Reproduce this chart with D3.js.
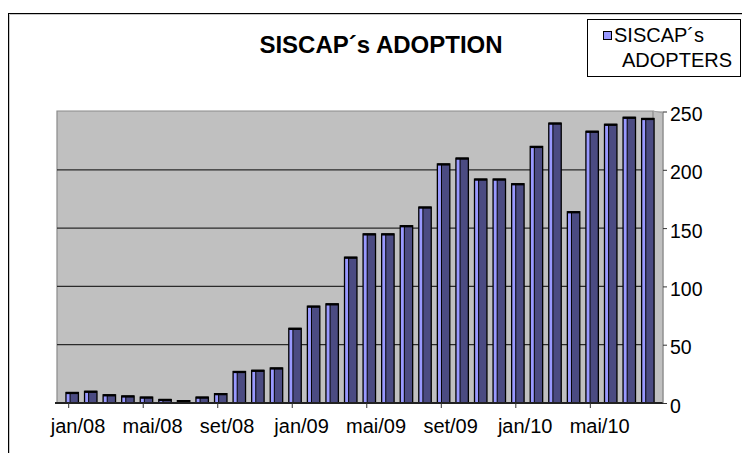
<!DOCTYPE html>
<html>
<head>
<meta charset="utf-8">
<script src="https://cdn.jsdelivr.net/npm/d3@7"></script>
<style>
  html, body { margin: 0; padding: 0; background: #fff; }
  svg { display: block; }
  text { font-family: "Liberation Sans", Arial, sans-serif; fill: #000; }
</style>
</head>
<body>
<svg id="chart" width="742" height="453"></svg>
<script>
const months = ["jan/08","fev/08","mar/08","abr/08","mai/08","jun/08","jul/08","ago/08",
  "set/08","out/08","nov/08","dez/08","jan/09","fev/09","mar/09","abr/09",
  "mai/09","jun/09","jul/09","ago/09","set/09","out/09","nov/09","dez/09",
  "jan/10","fev/10","mar/10","abr/10","mai/10","jun/10","jul/10","ago/10"];
const adopters = [9,10,7,6,5,3,2,5,8,27,28,30,64,83,85,125,
  145,145,152,168,205,210,192,192,188,220,240,164,233,239,245,244];
const yTicks = [0,50,100,150,200,250];
const labelMonths = ["jan/08","mai/08","set/08","jan/09","mai/09","set/09","jan/10","mai/10"];
const title = "SISCAP´s ADOPTION";
const legendLines = ["SISCAP´s", "ADOPTERS"];

const svg = d3.select("#chart");

// outer chart border
svg.append("line").attr("x1",9.5).attr("x2",742).attr("y1",14.5).attr("y2",14.5).attr("stroke","#c8c8c8");
svg.append("line").attr("x1",9.5).attr("x2",9.5).attr("y1",14.5).attr("y2",453).attr("stroke","#c8c8c8");
svg.append("rect").attr("x",8.5).attr("y",13.5).attr("width",800).attr("height",500)
  .attr("fill","none").attr("stroke","#000").attr("stroke-width",1);

// geometry
const wallL = 57, wallR = 653, sideR = 663, wallTop = 111, floorY = 403;
const y = d3.scaleLinear().domain([0,250]).range([floorY, 111.5]);
const xBar = d3.scaleBand().domain(months).range([62.9, 62.9 + 32*18.57])
  .paddingInner(0.33).paddingOuter(0.165);
const xFront = d3.scaleBand().domain(months).range([68.7, 68.7 + 32*18.63]);

// walls
svg.append("rect").attr("x",wallL).attr("y",wallTop).attr("width",sideR-wallL).attr("height",floorY-wallTop)
  .attr("fill","#c0c0c0");
svg.append("path")
  .attr("d",`M${wallL},${floorY}V${wallTop}H${wallR}V${floorY}`)
  .attr("fill","none").attr("stroke","#8a8a8a").attr("stroke-width",1.2);
svg.append("path")
  .attr("d",`M${wallR},${wallTop}L${sideR},${wallTop+2}V${floorY}`)
  .attr("fill","none").attr("stroke","#a0a0a0").attr("stroke-width",1);

// gridlines
svg.append("g").selectAll("line").data(yTicks.filter(d => d > 0 && d < 250)).join("line")
  .attr("x1",wallL).attr("x2",wallR)
  .attr("y1",d => y(d)).attr("y2",d => y(d))
  .attr("stroke","#2a2a2a").attr("stroke-width",1.2);

// bars
const bars = svg.append("g").selectAll("g").data(adopters).join("g");
const bw = xBar.bandwidth();
bars.append("rect")
  .attr("x",(d,i) => xBar(months[i])).attr("y",d => y(d))
  .attr("width",bw).attr("height",d => floorY - y(d))
  .attr("fill","#4b4b82");
bars.append("rect")
  .attr("x",(d,i) => xBar(months[i])).attr("y",d => y(d))
  .attr("width",bw*0.33).attr("height",d => floorY - y(d))
  .attr("fill","#9999ff");
bars.append("line")
  .attr("x1",(d,i) => xBar(months[i]) + bw*0.33).attr("x2",(d,i) => xBar(months[i]) + bw*0.33)
  .attr("y1",d => y(d)).attr("y2",floorY)
  .attr("stroke","#000").attr("stroke-width",1);
bars.append("rect")
  .attr("x",(d,i) => xBar(months[i])).attr("y",d => y(d))
  .attr("width",bw).attr("height",d => floorY - y(d))
  .attr("fill","none").attr("stroke","#000").attr("stroke-width",1.3);
bars.append("line")
  .attr("x1",(d,i) => xBar(months[i])).attr("x2",(d,i) => xBar(months[i]) + bw)
  .attr("y1",d => y(d)+0.5).attr("y2",d => y(d)+0.5)
  .attr("stroke","#000").attr("stroke-width",2.2);

// floor / front axis
svg.append("line").attr("x1",55).attr("x2",sideR).attr("y1",floorY).attr("y2",floorY)
  .attr("stroke","#222").attr("stroke-width",2);
const xAxis = d3.axisBottom(xFront).tickValues(labelMonths).tickSize(0).tickPadding(0);
const gx = svg.append("g").attr("transform",`translate(0,${floorY})`).call(xAxis);
gx.select(".domain").remove();
gx.selectAll(".tick text").attr("y",30).attr("dy",0)
  .style("font-family","'Liberation Sans', Arial, sans-serif").style("font-size","20px");
gx.selectAll(".tick").append("line")
  .attr("x1",-xFront.bandwidth()/2).attr("x2",-xFront.bandwidth()/2)
  .attr("y1",0).attr("y2",5).attr("stroke","#333").attr("stroke-width",1);

// right value axis
svg.append("line").attr("x1",sideR).attr("x2",sideR).attr("y1",wallTop+1).attr("y2",floorY)
  .attr("stroke","#888").attr("stroke-width",1);
const yAxis = d3.axisRight(y).tickValues(yTicks).tickSize(4).tickPadding(3);
const gy = svg.append("g").attr("transform",`translate(${sideR},0)`).call(yAxis);
gy.select(".domain").remove();
gy.selectAll(".tick line").attr("stroke","#333");
gy.selectAll(".tick text").attr("dy",0).attr("y",9)
  .style("font-family","'Liberation Sans', Arial, sans-serif").style("font-size","19.5px");

// title
svg.append("text").attr("x",381).attr("y",53).attr("text-anchor","middle")
  .style("font-size","24px").style("font-weight","bold").text(title);

// legend
svg.append("rect").attr("x",587.5).attr("y",19.5).attr("width",153).attr("height",57)
  .attr("fill","#fff").attr("stroke","#000").attr("stroke-width",1);
svg.append("rect").attr("x",603.5).attr("y",31.5).attr("width",8).attr("height",8)
  .attr("fill","#9999ff").attr("stroke","#000").attr("stroke-width",1);
svg.append("text").attr("x",614).attr("y",42).style("font-size","20px").text(legendLines[0]);
svg.append("text").attr("x",622).attr("y",67).style("font-size","20px").text(legendLines[1]);
</script>
</body>
</html>
